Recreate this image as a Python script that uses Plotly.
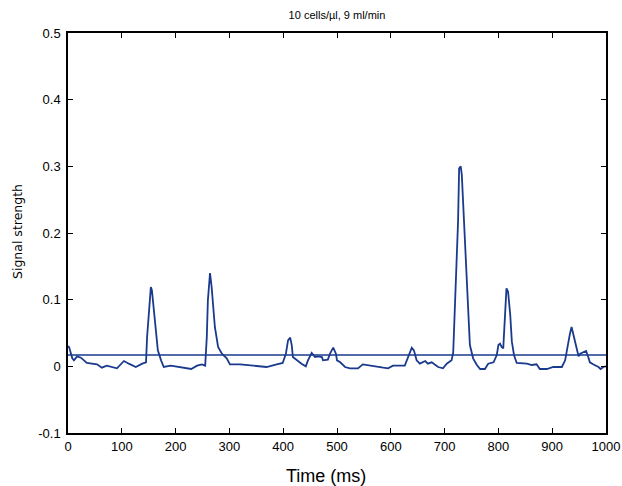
import plotly.graph_objects as go

# Signal trace (time in ms, signal strength)
time_ms = [0, 2, 8, 11, 17, 24, 35, 54, 63, 72, 91, 104, 113, 126, 138, 145,
           147, 151, 154, 156, 160, 164, 167, 173, 178, 191, 210, 229, 240, 249,
           255, 258, 260, 264, 267, 270, 273, 279, 286, 295, 301, 320, 351, 369,
           388, 399, 405, 409, 413, 416, 418, 425, 434, 442, 446, 453, 459, 465,
           472, 474, 483, 487, 493, 498, 500, 506, 515, 524, 539, 548, 561, 574,
           586, 595, 604, 626, 632, 639, 643, 648, 654, 664, 669, 676, 688, 697,
           704, 713, 716, 719, 722, 725, 727, 730, 732, 735, 738, 741, 744, 747,
           753, 760, 766, 775, 781, 791, 797, 800, 803, 806, 809, 812, 815, 818,
           822, 825, 829, 834, 840, 853, 862, 871, 877, 890, 902, 918, 924, 928,
           933, 936, 939, 942, 946, 949, 952, 958, 963, 967, 970, 976, 986, 990,
           995, 1000]
signal = [0.030, 0.029, 0.012, 0.009, 0.015, 0.013, 0.005, 0.003, -0.002, 0.001,
          -0.003, 0.008, 0.004, -0.001, 0.004, 0.006,
          0.044, 0.095, 0.119, 0.114, 0.084, 0.054, 0.024, 0.009, -0.001, 0.001,
          -0.002, -0.004, 0.001, 0.003,
          0.001, 0.044, 0.099, 0.140, 0.119, 0.089, 0.059, 0.029, 0.019, 0.012,
          0.003, 0.003, 0.001, -0.001,
          0.003, 0.005, 0.019, 0.039, 0.043, 0.031, 0.014, 0.009, 0.004, 0.000,
          0.009, 0.020, 0.014, 0.015,
          0.014, 0.009, 0.010, 0.019, 0.028, 0.019, 0.009, 0.006, -0.001, -0.003,
          -0.003, 0.003, 0.001, -0.001,
          -0.002, -0.003, 0.001, 0.001, 0.014, 0.028, 0.024, 0.009, 0.004, 0.008,
          0.004, 0.006, -0.001, -0.003,
          0.004, 0.009, 0.021, 0.082, 0.132, 0.217, 0.297, 0.300, 0.287, 0.237,
          0.177, 0.127, 0.077, 0.032,
          0.012, 0.002, -0.004, -0.004, 0.004, 0.006, 0.017, 0.032, 0.034, 0.029,
          0.027, 0.067, 0.117, 0.112,
          0.077, 0.037, 0.017, 0.005, 0.005, 0.004, 0.002, 0.003, -0.004, -0.004,
          -0.001, -0.001, 0.009, 0.029,
          0.049, 0.059, 0.049, 0.039, 0.024, 0.015, 0.019, 0.021, 0.023, 0.014,
          0.006, 0.003, -0.001, -0.004,
          -0.001, 0.000]

# Detection threshold line
threshold_x = [0, 1000]
threshold_y = [0.017, 0.017]

x_ticks = [0, 100, 200, 300, 400, 500, 600, 700, 800, 900, 1000]
y_ticks = [-0.1, 0, 0.1, 0.2, 0.3, 0.4, 0.5]
y_tick_labels = ["-0.1", "0", "0.1", "0.2", "0.3", "0.4", "0.5"]

title_text = "10 cells/µl, 9 ml/min"
x_title = "Time (ms)"
y_title = "Signal strength"

line_color = "#1a3a8e"
font_main = "Liberation Sans, Arial, sans-serif"

fig = go.Figure()
fig.add_trace(go.Scatter(x=threshold_x, y=threshold_y, mode="lines",
                         line=dict(color=line_color, width=1.6),
                         showlegend=False, hoverinfo="skip"))
fig.add_trace(go.Scatter(x=time_ms, y=signal, mode="lines",
                         line=dict(color=line_color, width=1.8),
                         showlegend=False))

axis_common = dict(showgrid=False, zeroline=False, showline=True,
                   linecolor="black", linewidth=1.5, mirror="ticks",
                   ticks="inside", ticklen=5, tickwidth=1.2, tickcolor="black",
                   automargin=False, ticklabeloverflow="allow",
                   tickfont=dict(family=font_main, size=13, color="black"))

fig.update_layout(
    width=622, height=486,
    margin=dict(l=68, r=16, t=33, b=53),
    paper_bgcolor="white", plot_bgcolor="white",
    font=dict(family=font_main, color="black"),
    title=dict(text=title_text, x=337 / 622, xanchor="center",
               y=1 - 15.5 / 486, yanchor="middle", yref="container",
               font=dict(size=11, color="black")),
    xaxis=dict(range=[0, 1000], tickvals=x_ticks, ticklabelstandoff=1,
               **axis_common),
    yaxis=dict(range=[-0.1, 0.5], tickvals=y_ticks, ticktext=y_tick_labels,
               ticklabelstandoff=3, **axis_common),
    annotations=[
        dict(text=x_title, xref="paper", yref="paper", x=0.4796, y=-0.108,
             xanchor="center", yanchor="middle", showarrow=False,
             font=dict(family=font_main, size=18, color="black")),
        dict(text=y_title, xref="paper", yref="paper", x=-0.0948, y=0.505,
             xanchor="center", yanchor="middle", showarrow=False, textangle=-90,
             font=dict(family="DejaVu Sans, sans-serif", size=12.5, color="black")),
    ],
)

fig.write_html(
    "out.html",
    config={"displayModeBar": False},
    post_script="document.body.style.margin='0';document.body.style.overflow='hidden';",
)
